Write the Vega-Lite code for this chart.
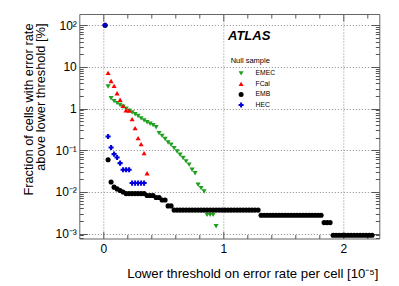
{
  "$schema": "https://vega.github.io/schema/vega-lite/v6.json",
  "width": 300,
  "height": 224.5,
  "autosize": {"type": "none"},
  "padding": {"left": 79.3, "top": 14, "right": 19.7, "bottom": 47.5},
  "background": "white",
  "title": {"text": "ATLAS", "anchor": "start", "frame": "group", "orient": "top", "offset": 0, "dx": 148.7, "dy": 39, "baseline": "alphabetic", "font": "Liberation Sans", "fontSize": 13, "fontStyle": "italic", "fontWeight": "bold", "color": "#000"},
  "config": {
    "font": "Liberation Sans",
    "view": {"stroke": "#666", "strokeWidth": 1},
    "axis": {"domain": false, "labelColor": "#000", "titleColor": "#000", "tickColor": "#555", "labelFont": "Liberation Sans", "titleFont": "Liberation Sans", "titleFontWeight": "normal"},
    "legend": {"orient": "none", "legendX": 151.4, "legendY": 42.5, "titleFontSize": 7.5, "titleFontWeight": "normal", "titleColor": "#000", "titlePadding": 6, "labelFontSize": 6.8, "labelColor": "#000", "symbolOffset": 7, "labelOffset": 11, "symbolSize": 25, "rowPadding": 2.5, "padding": 0, "symbolStrokeWidth": 0}
  },
  "datasets": {
    "pts": [
      {"s": "EMEC", "x": 0.04, "y": 3.37},
      {"s": "EMEC", "x": 0.065, "y": 1.76},
      {"s": "EMEC", "x": 0.09, "y": 1.51},
      {"s": "EMEC", "x": 0.115, "y": 1.35},
      {"s": "EMEC", "x": 0.14, "y": 1.22},
      {"s": "EMEC", "x": 0.165, "y": 1.10},
      {"s": "EMEC", "x": 0.19, "y": 0.99},
      {"s": "EMEC", "x": 0.215, "y": 0.89},
      {"s": "EMEC", "x": 0.24, "y": 0.81},
      {"s": "EMEC", "x": 0.265, "y": 0.73},
      {"s": "EMEC", "x": 0.29, "y": 0.66},
      {"s": "EMEC", "x": 0.315, "y": 0.58},
      {"s": "EMEC", "x": 0.34, "y": 0.52},
      {"s": "EMEC", "x": 0.365, "y": 0.47},
      {"s": "EMEC", "x": 0.39, "y": 0.43},
      {"s": "EMEC", "x": 0.415, "y": 0.40},
      {"s": "EMEC", "x": 0.44, "y": 0.355},
      {"s": "EMEC", "x": 0.465, "y": 0.257},
      {"s": "EMEC", "x": 0.49, "y": 0.221},
      {"s": "EMEC", "x": 0.515, "y": 0.185},
      {"s": "EMEC", "x": 0.54, "y": 0.153},
      {"s": "EMEC", "x": 0.565, "y": 0.135},
      {"s": "EMEC", "x": 0.59, "y": 0.112},
      {"s": "EMEC", "x": 0.615, "y": 0.093},
      {"s": "EMEC", "x": 0.64, "y": 0.078},
      {"s": "EMEC", "x": 0.665, "y": 0.065},
      {"s": "EMEC", "x": 0.69, "y": 0.054},
      {"s": "EMEC", "x": 0.715, "y": 0.045},
      {"s": "EMEC", "x": 0.74, "y": 0.034},
      {"s": "EMEC", "x": 0.765, "y": 0.028},
      {"s": "EMEC", "x": 0.79, "y": 0.0148},
      {"s": "EMEC", "x": 0.815, "y": 0.0123},
      {"s": "EMEC", "x": 0.84, "y": 0.0102},
      {"s": "EMEC", "x": 0.865, "y": 0.0028},
      {"s": "EMEC", "x": 0.89, "y": 0.0028},
      {"s": "EMEC", "x": 0.915, "y": 0.0028},
      {"s": "EMEC", "x": 0.94, "y": 0.0015},
      {"s": "FCal", "x": 0.04, "y": 7.2},
      {"s": "FCal", "x": 0.065, "y": 4.6},
      {"s": "FCal", "x": 0.09, "y": 3.5},
      {"s": "FCal", "x": 0.115, "y": 2.34},
      {"s": "FCal", "x": 0.14, "y": 1.62},
      {"s": "FCal", "x": 0.165, "y": 1.16},
      {"s": "FCal", "x": 0.19, "y": 0.91},
      {"s": "FCal", "x": 0.215, "y": 0.89},
      {"s": "FCal", "x": 0.24, "y": 0.557},
      {"s": "FCal", "x": 0.265, "y": 0.339},
      {"s": "FCal", "x": 0.29, "y": 0.195},
      {"s": "FCal", "x": 0.315, "y": 0.14},
      {"s": "FCal", "x": 0.34, "y": 0.085},
      {"s": "FCal", "x": 0.365, "y": 0.028},
      {"s": "EMB", "x": 0.015, "y": 100},
      {"s": "EMB", "x": 0.04, "y": 0.059},
      {"s": "EMB", "x": 0.065, "y": 0.0173},
      {"s": "EMB", "x": 0.09, "y": 0.0130},
      {"s": "EMB", "x": 0.115, "y": 0.0118},
      {"s": "EMB", "x": 0.14, "y": 0.0108},
      {"s": "EMB", "x": 0.165, "y": 0.0099},
      {"s": "EMB", "x": 0.19, "y": 0.0091},
      {"s": "EMB", "x": 0.215, "y": 0.0091},
      {"s": "EMB", "x": 0.24, "y": 0.0091},
      {"s": "EMB", "x": 0.265, "y": 0.0091},
      {"s": "EMB", "x": 0.29, "y": 0.0091},
      {"s": "EMB", "x": 0.315, "y": 0.0091},
      {"s": "EMB", "x": 0.34, "y": 0.0091},
      {"s": "EMB", "x": 0.365, "y": 0.0082},
      {"s": "EMB", "x": 0.39, "y": 0.0082},
      {"s": "EMB", "x": 0.415, "y": 0.0082},
      {"s": "EMB", "x": 0.44, "y": 0.0073},
      {"s": "EMB", "x": 0.465, "y": 0.0073},
      {"s": "EMB", "x": 0.49, "y": 0.0064},
      {"s": "EMB", "x": 0.515, "y": 0.0064},
      {"s": "EMB", "x": 0.54, "y": 0.0046},
      {"s": "EMB", "x": 0.565, "y": 0.0046},
      {"s": "EMB", "x": 0.59, "y": 0.00365},
      {"s": "EMB", "x": 0.615, "y": 0.00365},
      {"s": "EMB", "x": 0.64, "y": 0.00365},
      {"s": "EMB", "x": 0.665, "y": 0.00365},
      {"s": "EMB", "x": 0.69, "y": 0.00365},
      {"s": "EMB", "x": 0.715, "y": 0.00365},
      {"s": "EMB", "x": 0.74, "y": 0.00365},
      {"s": "EMB", "x": 0.765, "y": 0.00365},
      {"s": "EMB", "x": 0.79, "y": 0.00365},
      {"s": "EMB", "x": 0.815, "y": 0.00365},
      {"s": "EMB", "x": 0.84, "y": 0.00365},
      {"s": "EMB", "x": 0.865, "y": 0.00365},
      {"s": "EMB", "x": 0.89, "y": 0.00365},
      {"s": "EMB", "x": 0.915, "y": 0.00365},
      {"s": "EMB", "x": 0.94, "y": 0.00365},
      {"s": "EMB", "x": 0.965, "y": 0.00365},
      {"s": "EMB", "x": 0.99, "y": 0.00365},
      {"s": "EMB", "x": 1.015, "y": 0.00365},
      {"s": "EMB", "x": 1.04, "y": 0.00365},
      {"s": "EMB", "x": 1.065, "y": 0.00365},
      {"s": "EMB", "x": 1.09, "y": 0.00365},
      {"s": "EMB", "x": 1.115, "y": 0.00365},
      {"s": "EMB", "x": 1.14, "y": 0.00365},
      {"s": "EMB", "x": 1.165, "y": 0.00365},
      {"s": "EMB", "x": 1.19, "y": 0.00365},
      {"s": "EMB", "x": 1.215, "y": 0.00365},
      {"s": "EMB", "x": 1.24, "y": 0.00365},
      {"s": "EMB", "x": 1.265, "y": 0.00365},
      {"s": "EMB", "x": 1.29, "y": 0.00365},
      {"s": "EMB", "x": 1.315, "y": 0.00274},
      {"s": "EMB", "x": 1.34, "y": 0.00274},
      {"s": "EMB", "x": 1.365, "y": 0.00274},
      {"s": "EMB", "x": 1.39, "y": 0.00274},
      {"s": "EMB", "x": 1.415, "y": 0.00274},
      {"s": "EMB", "x": 1.44, "y": 0.00274},
      {"s": "EMB", "x": 1.465, "y": 0.00274},
      {"s": "EMB", "x": 1.49, "y": 0.00274},
      {"s": "EMB", "x": 1.515, "y": 0.00274},
      {"s": "EMB", "x": 1.54, "y": 0.00274},
      {"s": "EMB", "x": 1.565, "y": 0.00274},
      {"s": "EMB", "x": 1.59, "y": 0.00274},
      {"s": "EMB", "x": 1.615, "y": 0.00274},
      {"s": "EMB", "x": 1.64, "y": 0.00274},
      {"s": "EMB", "x": 1.665, "y": 0.00274},
      {"s": "EMB", "x": 1.69, "y": 0.00274},
      {"s": "EMB", "x": 1.715, "y": 0.00274},
      {"s": "EMB", "x": 1.74, "y": 0.00274},
      {"s": "EMB", "x": 1.765, "y": 0.00274},
      {"s": "EMB", "x": 1.79, "y": 0.00274},
      {"s": "EMB", "x": 1.815, "y": 0.00274},
      {"s": "EMB", "x": 1.84, "y": 0.00183},
      {"s": "EMB", "x": 1.865, "y": 0.00183},
      {"s": "EMB", "x": 1.89, "y": 0.00183},
      {"s": "EMB", "x": 1.915, "y": 0.00091},
      {"s": "EMB", "x": 1.94, "y": 0.00091},
      {"s": "EMB", "x": 1.965, "y": 0.00091},
      {"s": "EMB", "x": 1.99, "y": 0.00091},
      {"s": "EMB", "x": 2.015, "y": 0.00091},
      {"s": "EMB", "x": 2.04, "y": 0.00091},
      {"s": "EMB", "x": 2.065, "y": 0.00091},
      {"s": "EMB", "x": 2.09, "y": 0.00091},
      {"s": "EMB", "x": 2.115, "y": 0.00091},
      {"s": "EMB", "x": 2.14, "y": 0.00091},
      {"s": "EMB", "x": 2.165, "y": 0.00091},
      {"s": "EMB", "x": 2.19, "y": 0.00091},
      {"s": "EMB", "x": 2.215, "y": 0.00091},
      {"s": "EMB", "x": 2.24, "y": 0.00091},
      {"s": "HEC", "x": 0.015, "y": 100},
      {"s": "HEC", "x": 0.04, "y": 0.213},
      {"s": "HEC", "x": 0.065, "y": 0.116},
      {"s": "HEC", "x": 0.09, "y": 0.0805},
      {"s": "HEC", "x": 0.115, "y": 0.0668},
      {"s": "HEC", "x": 0.14, "y": 0.049},
      {"s": "HEC", "x": 0.165, "y": 0.0339},
      {"s": "HEC", "x": 0.19, "y": 0.0339},
      {"s": "HEC", "x": 0.215, "y": 0.0339},
      {"s": "HEC", "x": 0.24, "y": 0.01625},
      {"s": "HEC", "x": 0.265, "y": 0.01625},
      {"s": "HEC", "x": 0.29, "y": 0.01625},
      {"s": "HEC", "x": 0.315, "y": 0.01625},
      {"s": "HEC", "x": 0.34, "y": 0.01625}
    ]
  },
  "data": {"name": "pts"},
  "layer": [
    {
      "mark": {"type": "point", "filled": true, "size": 26, "opacity": 1},
      "encoding": {
        "x": {"field": "x", "type": "quantitative", "scale": {"domain": [-0.2, 2.3], "nice": false, "zero": false},
          "axis": {"orient": "bottom", "values": [0, 1, 2], "ticks": false, "grid": true, "gridDash": [1, 2], "gridColor": "#888", "gridWidth": 1, "labelFontSize": 12, "labelPadding": 5, "format": "d", "title": "Lower threshold on error rate per cell [10⁻⁵]", "titleFontSize": 13.2, "titleAlign": "right", "titleBaseline": "middle", "titleX": 298.7, "titleY": 35}},
        "y": {"field": "y", "type": "quantitative", "scale": {"type": "log", "domain": [0.00076, 186], "nice": false},
          "axis": {"orient": "left", "values": [0.001, 0.01, 0.1, 1, 10, 100], "ticks": false, "grid": true, "gridDash": [1, 2], "gridColor": "#888", "gridWidth": 1, "labelFontSize": 12, "labelPadding": 3,
            "labelExpr": "datum.value >= 50 ? '10²' : datum.value >= 5 ? '10' : datum.value >= 0.5 ? '1' : datum.value >= 0.05 ? '10⁻¹' : datum.value >= 0.005 ? '10⁻²' : '10⁻³'",
            "title": ["Fraction of cells with error rate", "above lower threshold [%]"], "titleFontSize": 12.8, "titleAngle": -90, "titleAlign": "right", "titleBaseline": "middle", "titleX": -51, "titleY": 9, "titleLineHeight": 12.6}},
        "color": {"field": "s", "type": "nominal", "scale": {"domain": ["EMEC", "FCal", "EMB", "HEC"], "range": ["#1fa01f", "#ff0000", "#000000", "#0000dd"]}, "legend": {"title": "Null sample"}},
        "shape": {"field": "s", "type": "nominal", "scale": {"domain": ["EMEC", "FCal", "EMB", "HEC"], "range": ["triangle-down", "triangle-up", "circle", "cross"]}, "legend": {"title": "Null sample"}}
      }
    },
    {
      "mark": {"type": "point", "opacity": 0},
      "encoding": {
        "x": {"field": "x", "type": "quantitative", "axis": {"orient": "bottom", "values": [0, 1, 2], "tickSize": -7, "labels": false, "grid": false, "title": null}},
        "y": {"field": "y", "type": "quantitative", "axis": {"orient": "left", "values": [0.001, 0.01, 0.1, 1, 10, 100], "tickSize": -8, "labels": false, "grid": false, "title": null}}
      }
    },
    {
      "mark": {"type": "point", "opacity": 0},
      "encoding": {
        "x": {"field": "x", "type": "quantitative", "axis": {"orient": "top", "values": [0, 1, 2], "tickSize": -7, "labels": false, "grid": false, "title": null}},
        "y": {"field": "y", "type": "quantitative", "axis": {"orient": "right", "values": [0.001, 0.01, 0.1, 1, 10, 100], "tickSize": -8, "labels": false, "grid": false, "title": null}}
      }
    },
    {
      "mark": {"type": "point", "opacity": 0},
      "encoding": {
        "x": {"field": "x", "type": "quantitative", "axis": {"orient": "bottom", "values": [0.2, 0.4, 0.6, 0.8, 1.2, 1.4, 1.6, 1.8, 2.2], "tickSize": -4, "labels": false, "grid": false, "title": null}},
        "y": {"field": "y", "type": "quantitative", "axis": {"orient": "left", "values": [0.0008, 0.0009, 0.002, 0.003, 0.004, 0.005, 0.006, 0.007, 0.008, 0.009, 0.02, 0.03, 0.04, 0.05, 0.06, 0.07, 0.08, 0.09, 0.2, 0.3, 0.4, 0.5, 0.6, 0.7, 0.8, 0.9, 2, 3, 4, 5, 6, 7, 8, 9, 20, 30, 40, 50, 60, 70, 80, 90], "tickSize": -4, "labels": false, "grid": false, "title": null}}
      }
    },
    {
      "mark": {"type": "point", "opacity": 0},
      "encoding": {
        "x": {"field": "x", "type": "quantitative", "axis": {"orient": "top", "values": [0.2, 0.4, 0.6, 0.8, 1.2, 1.4, 1.6, 1.8, 2.2], "tickSize": -4, "labels": false, "grid": false, "title": null}},
        "y": {"field": "y", "type": "quantitative", "axis": {"orient": "right", "values": [0.0008, 0.0009, 0.002, 0.003, 0.004, 0.005, 0.006, 0.007, 0.008, 0.009, 0.02, 0.03, 0.04, 0.05, 0.06, 0.07, 0.08, 0.09, 0.2, 0.3, 0.4, 0.5, 0.6, 0.7, 0.8, 0.9, 2, 3, 4, 5, 6, 7, 8, 9, 20, 30, 40, 50, 60, 70, 80, 90], "tickSize": -4, "labels": false, "grid": false, "title": null}}
      }
    }
  ],
  "resolve": {"axis": {"x": "independent", "y": "independent"}}
}
